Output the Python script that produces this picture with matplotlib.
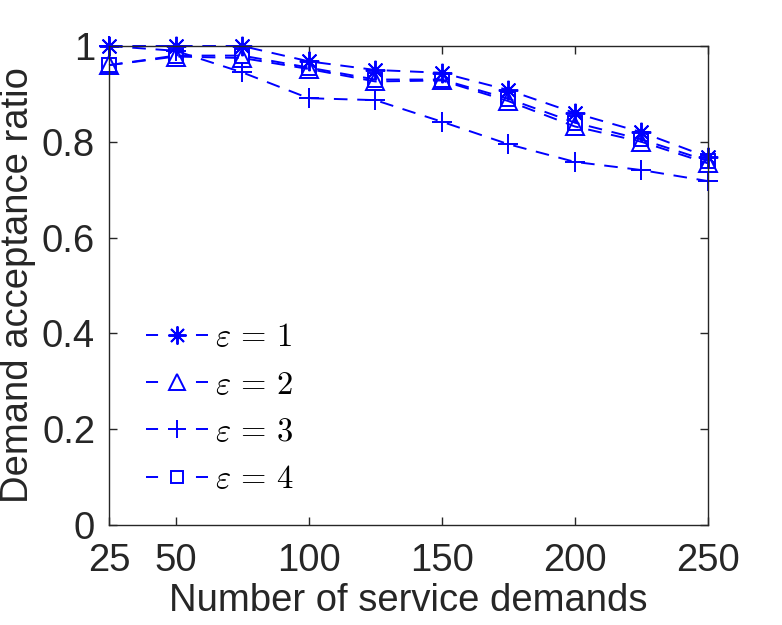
import matplotlib
matplotlib.use("Agg")
import matplotlib.pyplot as plt
from matplotlib.lines import Line2D

x = [25, 50, 75, 100, 125, 150, 175, 200, 225, 250]
eps1 = [1.0, 1.0, 1.0, 0.968, 0.950, 0.944, 0.908, 0.860, 0.820, 0.768]
eps2 = [0.960, 0.978, 0.975, 0.952, 0.926, 0.928, 0.885, 0.832, 0.800, 0.755]
eps3 = [1.0, 0.990, 0.945, 0.891, 0.887, 0.842, 0.795, 0.758, 0.741, 0.718]
eps4 = [0.960, 0.980, 0.980, 0.955, 0.930, 0.930, 0.890, 0.840, 0.805, 0.760]
labels = [r"$\varepsilon\,=\,1$", r"$\varepsilon\,=\,2$", r"$\varepsilon\,=\,3$", r"$\varepsilon\,=\,4$"]
xticks = [25, 50, 100, 150, 200, 250]
yticks = [0, 0.2, 0.4, 0.6, 0.8, 1.0]
yticklabels = ["0", "0.2", "0.4", "0.6", "0.8", "1"]

plt.rcParams['font.family'] = ['Liberation Sans', 'DejaVu Sans']
plt.rcParams['mathtext.fontset'] = 'cm'

dark = '#262626'
fig = plt.figure(figsize=(7.82, 6.25), dpi=100)
ax = fig.add_axes([109/782, 1-525/625, (708-109)/782, (525-46)/625])

blue = (0, 0, 1)
lw = 1.4
common = dict(color=blue, lw=lw, linestyle=(0, (7, 5)), markerfacecolor='none',
              markeredgecolor=blue, markeredgewidth=1.4, clip_on=False)
markers = [(8, 2, 0), '^', '+', 's']
sizes = [14, 13, 14, 10]
series = [eps1, eps2, eps3, eps4]
handles = []
for ys, m, s, lab in zip(series, markers, sizes, labels):
    ax.plot(x, ys, marker=m, ms=s, **common)
    handles.append(Line2D([], [], color=blue, lw=lw, linestyle=(0, (6.2, 19.5)),
                          marker=m, ms=s - 1, markerfacecolor='none',
                          markeredgecolor=blue, markeredgewidth=1.4))

ax.set_xlim(25, 250)
ax.set_ylim(0, 1)
ax.set_xticks(xticks)
ax.set_yticks(yticks)
ax.set_yticklabels(yticklabels)
ax.tick_params(direction='in', length=6, width=1, top=True, right=True,
               labelsize=27.5, colors=dark)
ax.tick_params(axis='x', pad=13)
ax.tick_params(axis='y', pad=10)
for sp in ax.spines.values():
    sp.set_color(dark)
    sp.set_linewidth(1.0)
ax.set_xlabel("Number of service demands", fontsize=27.5, color=dark, labelpad=3)
ax.set_ylabel("Demand acceptance ratio", fontsize=27.5, color=dark, labelpad=4)

leg = ax.legend(handles, labels, loc='lower left', bbox_to_anchor=(0.04, 0.035),
                frameon=False, fontsize=23.5, handlelength=1.9, handletextpad=0.2,
                labelspacing=0.5, borderaxespad=0)

fig.savefig("out.png", dpi=100)
